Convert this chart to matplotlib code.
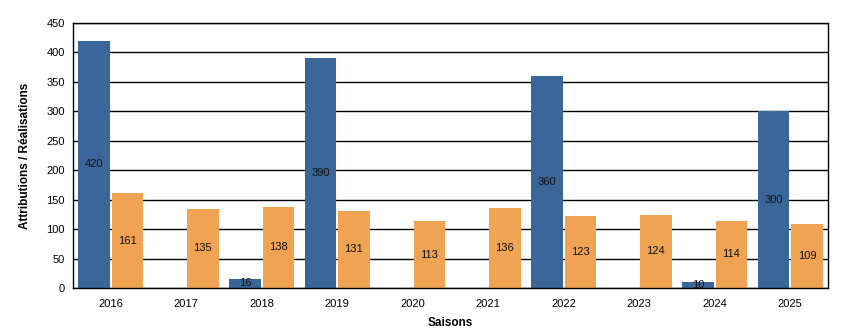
import matplotlib
matplotlib.use("Agg")
import matplotlib.pyplot as plt
import numpy as np

seasons = ["2016", "2017", "2018", "2019", "2020", "2021", "2022", "2023", "2024", "2025"]
attributions = [420, 0, 16, 390, 0, 0, 360, 0, 10, 300]
realisations = [161, 135, 138, 131, 113, 136, 123, 124, 114, 109]

plt.rcParams['font.family'] = ['Liberation Sans', 'DejaVu Sans']

fig = plt.figure(figsize=(8.45, 3.35), dpi=100)
ax = fig.add_axes([73/845, 1 - 288/335, (828 - 73)/845, (288 - 23)/335])

x = np.arange(len(seasons))
w = 0.42
off = 0.22
blue = "#3A6699"
orange = "#F0A352"

ax.set_axisbelow(True)
ax.yaxis.grid(True, color="black", linewidth=1.0)
ax.bar(x - off, attributions, w, color=blue)
ax.bar(x + off, realisations, w, color=orange)

for xi, v in zip(x, attributions):
    if v > 0:
        ax.text(xi - off, v / 2, str(v), ha="center", va="center", fontsize=8, color="#111111")
for xi, v in zip(x, realisations):
    ax.text(xi + off, v / 2, str(v), ha="center", va="center", fontsize=8, color="#111111")

ax.set_xlim(-0.5, len(seasons) - 0.5)
ax.set_ylim(0, 450)
ax.set_yticks(np.arange(0, 451, 50))
ax.set_xticks(x)
ax.set_xticklabels(seasons)
ax.tick_params(axis="both", length=0, labelsize=8)
ax.tick_params(axis="x", pad=8)
ax.tick_params(axis="y", pad=6)
for s in ax.spines.values():
    s.set_color("black")
    s.set_linewidth(1.0)

ax.set_xlabel("Saisons", fontsize=8.5, fontweight="bold", labelpad=6)
ax.set_ylabel("Attributions / Réalisations", fontsize=8.5, fontweight="bold", labelpad=11)

fig.savefig("out.png", dpi=100)
